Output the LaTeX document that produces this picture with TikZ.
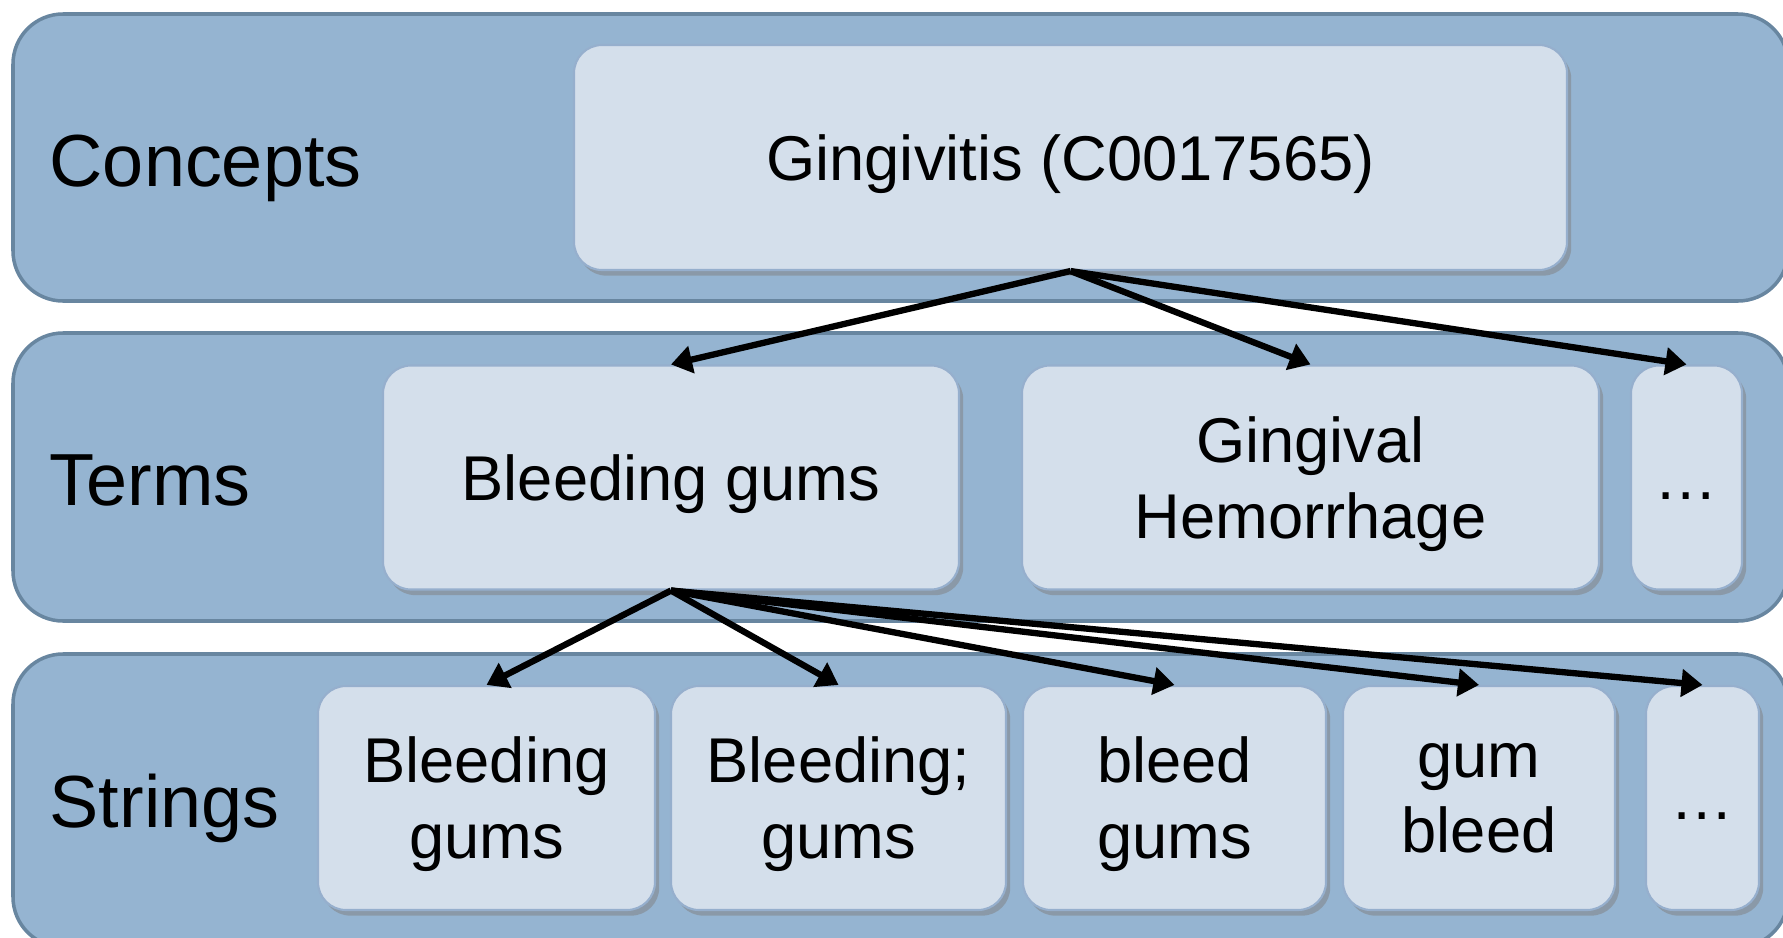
\documentclass[tikz,border=0pt]{standalone}
\usepackage{fontspec}
\setmainfont{Liberation Sans}
\usetikzlibrary{arrows.meta,shadows}
\definecolor{capafondo}{RGB}{149,180,209}
\definecolor{capaborde}{RGB}{104,134,160}
\definecolor{cajafondo}{RGB}{212,223,235}
\definecolor{cajaborde}{RGB}{150,175,205}
\begin{document}
\begin{tikzpicture}[
    font=\fontsize{18}{21.6}\selectfont,
    >={Triangle[length=0.21cm,width=0.27cm]},
    capa/.style={
        draw=capaborde,
        line width=1pt,
        fill=capafondo,
        rounded corners=0.5cm,
        minimum width=17.75cm,
        minimum height=#1,
        inner sep=0pt
    },
    etiqueta/.style={
        anchor=west,
        inner sep=0pt,
        text depth=0pt,
        font=\fontsize{21}{25}\selectfont
    },
    caja/.style={
        draw=cajaborde,
        line width=0.6pt,
        fill=cajafondo,
        rounded corners=0.28cm,
        minimum height=2.24cm,
        minimum width=#1,
        align=center,
        inner sep=0pt,
        text depth=0pt,
        drop shadow={shadow xshift=1.2pt,shadow yshift=-1.6pt,opacity=0.5}
    },
    flecha/.style={->,line width=1.8pt}
]
    \clip (0,0) rectangle (17.83,9.37);

    % capas
    \node[capa=2.87cm] (capa-conceptos) at (9.005,7.795) {};
    \node[capa=2.88cm] (capa-terminos) at (9.005,4.60) {};
    \node[capa=2.93cm] (capa-cadenas) at (9.005,1.365) {};
    \node[etiqueta] (lbl-conceptos) at (0.49,7.765) {Concepts};
    \node[etiqueta] (lbl-terminos) at (0.49,4.57) {Terms};
    \node[etiqueta] (lbl-cadenas) at (0.49,1.36) {Strings};

    % concepto
    \node[caja=9.93cm, minimum height=2.25cm] (gingivitis) at (10.705,7.795)
        {Gingivitis (C0017565)};

    % terminos
    \node[caja=5.76cm] (t-sangrado) at (6.71,4.595) {Bleeding gums};
    \node[caja=5.77cm] (t-hemorragia) at (13.105,4.595) {Gingival\\Hemorrhage};
    \node[caja=1.11cm] (t-otros) at (16.865,4.595) {\vphantom{B}…};

    % cadenas
    \node[caja=3.37cm] (s-bleeding) at (4.865,1.39) {Bleeding\\gums};
    \node[caja=3.35cm] (s-punto) at (8.385,1.39) {Bleeding;\\gums};
    \node[caja=3.03cm] (s-bleed) at (11.745,1.39) {bleed\\gums};
    \node[caja=2.72cm] (s-gum) at (14.79,1.39) {gum\\bleed};
    \node[caja=1.13cm] (s-otros) at (17.025,1.39) {\vphantom{B}…};

    \draw[flecha] (gingivitis.south) -- (t-sangrado.north);
    \draw[flecha] (gingivitis.south) -- (t-hemorragia.north);
    \draw[flecha] (gingivitis.south) -- (t-otros.north);

    \draw[flecha] (t-sangrado.south) -- (s-bleeding.north);
    \draw[flecha] (t-sangrado.south) -- (s-punto.north);
    \draw[flecha] (t-sangrado.south) -- (s-bleed.north);
    \draw[flecha] (t-sangrado.south) -- (s-gum.north);
    \draw[flecha] (t-sangrado.south) -- (s-otros.north);
\end{tikzpicture}
\end{document}
